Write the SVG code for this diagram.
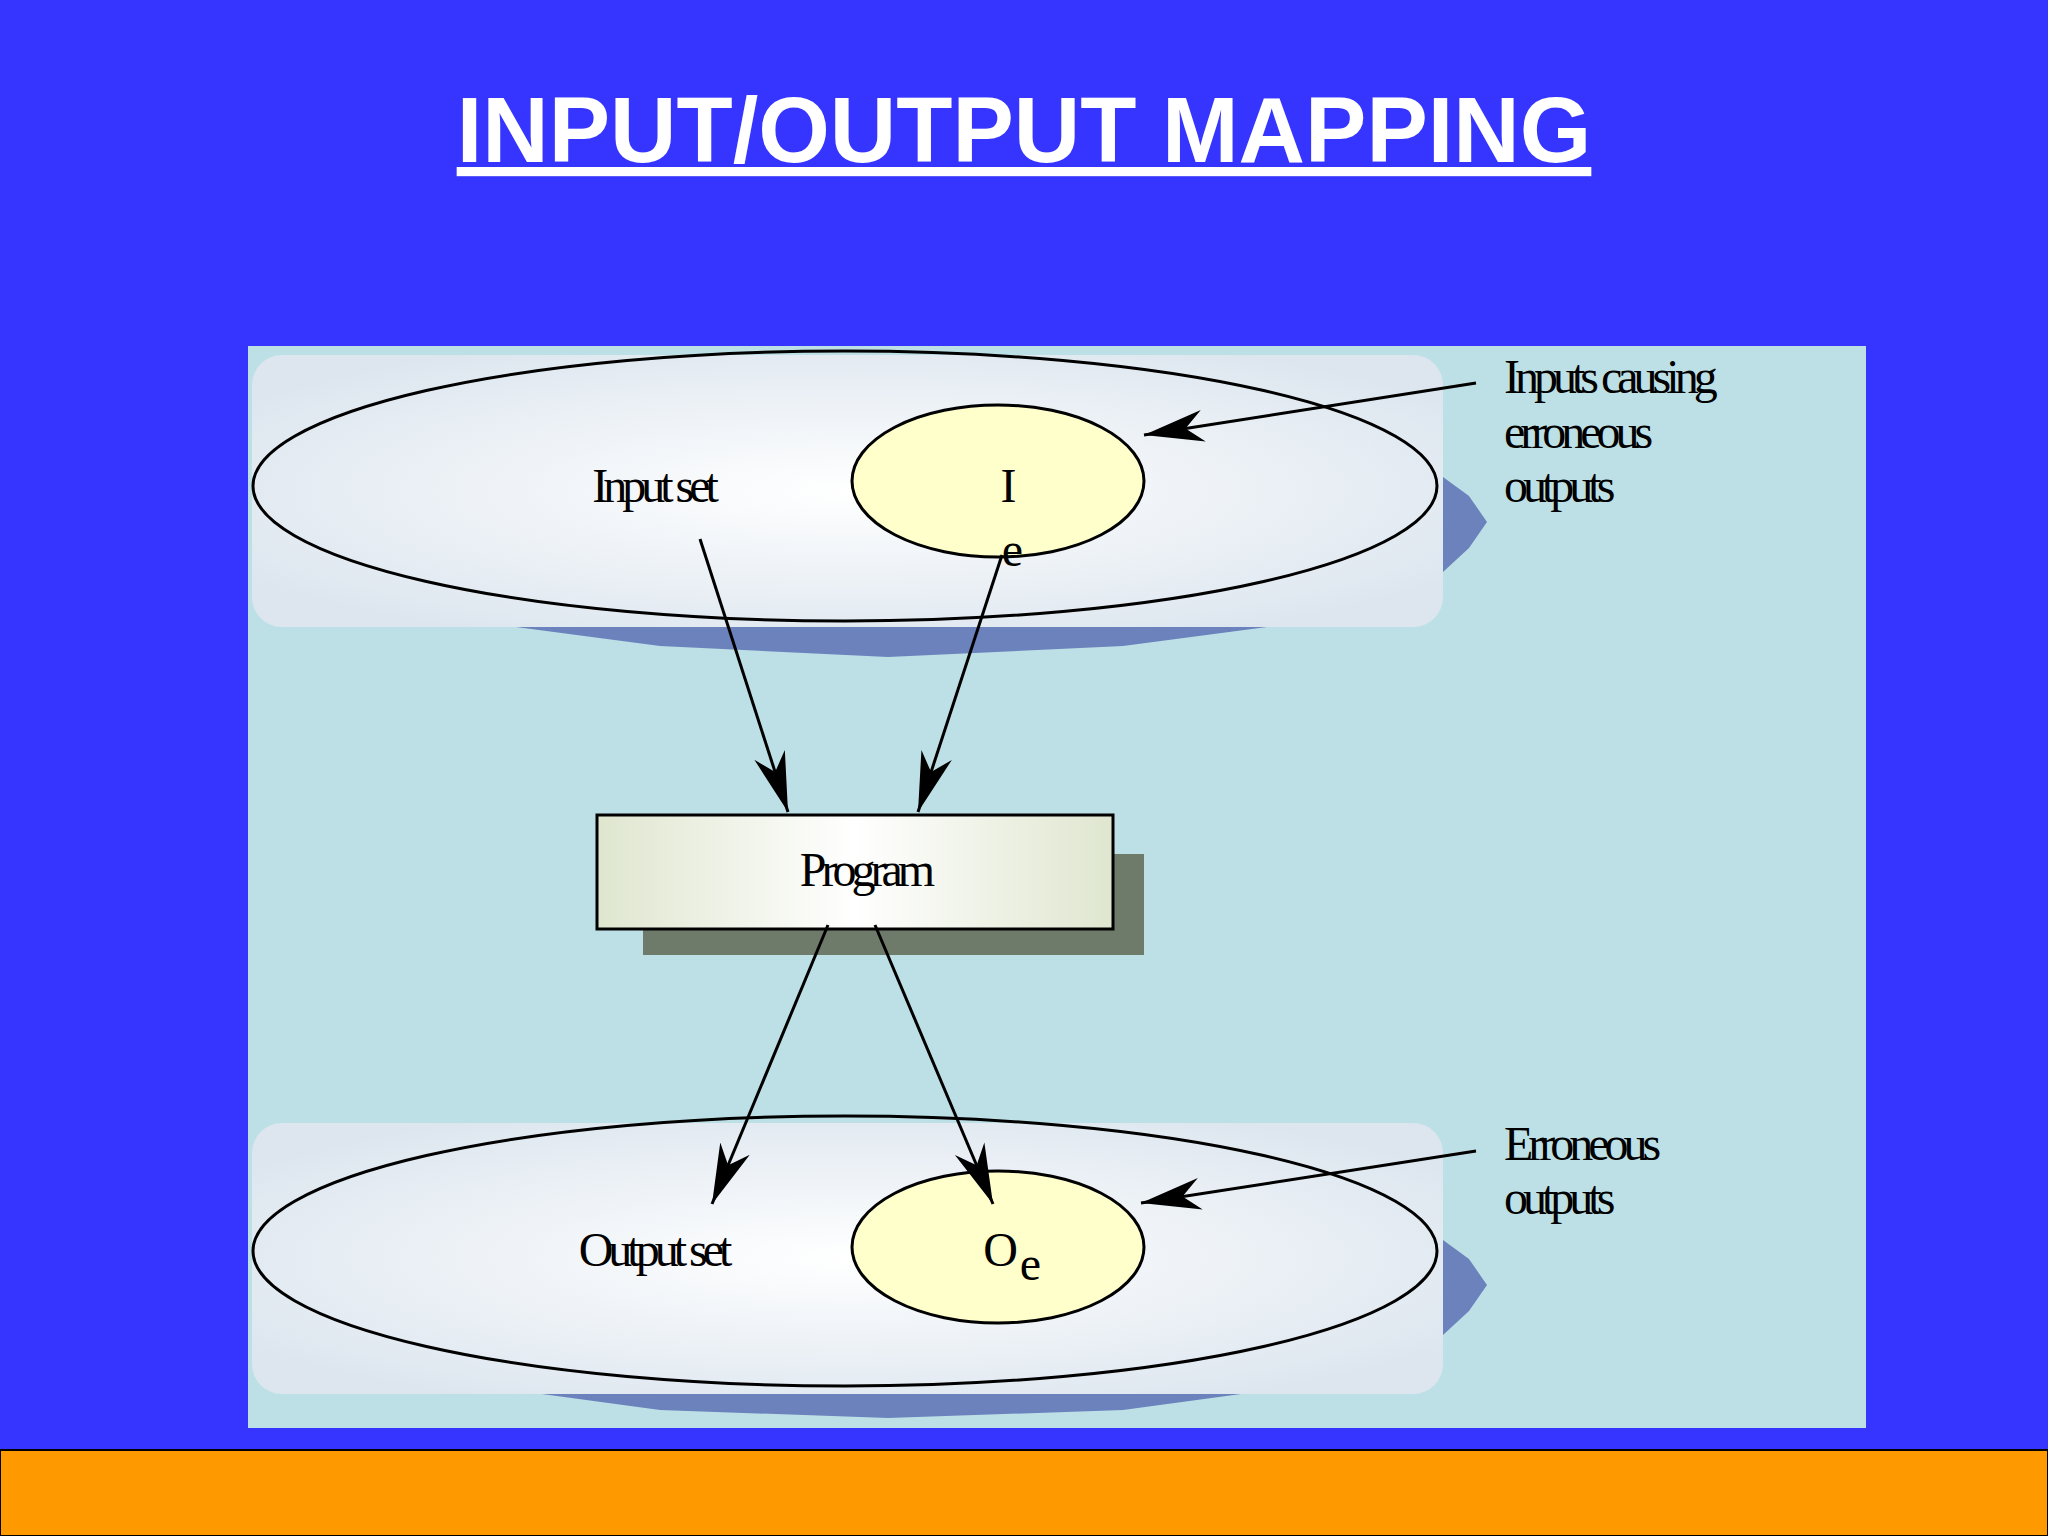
<svg xmlns="http://www.w3.org/2000/svg" width="2048" height="1536" viewBox="0 0 2048 1536">
<defs>
<style>
.lbl{font-family:"Liberation Serif",serif;font-size:48px;letter-spacing:-5px;fill:#000}
.ln{stroke:#000;stroke-width:3;fill:none}
.sh{fill:#6b82bd}
</style>
<radialGradient id="hl" cx="0.5" cy="0.5" r="0.6">
<stop offset="0" stop-color="#ffffff"/><stop offset="1" stop-color="#dde6ef"/>
</radialGradient>
<linearGradient id="pg" x1="0" x2="1">
<stop offset="0" stop-color="#dfe6cf"/><stop offset="0.5" stop-color="#ffffff"/><stop offset="1" stop-color="#dfe6cf"/>
</linearGradient>
<marker id="ah" viewBox="-60 -20 62 40" refX="0" refY="0" markerWidth="62" markerHeight="40" markerUnits="userSpaceOnUse" orient="auto">
<path d="M0,0 L-60,-16 L-42,0 L-60,16 Z" fill="#000"/>
</marker>
</defs>
<rect width="2048" height="1536" fill="#3535ff"/>
<text x="1024" y="162" text-anchor="middle" font-family="Liberation Sans,Arial,sans-serif" font-weight="bold" font-size="92" fill="#fff" text-decoration="underline">INPUT/OUTPUT MAPPING</text>
<rect x="248" y="346" width="1618" height="1082" fill="#bde0e6"/>
<rect x="0" y="1450" width="2048" height="86" fill="#ff9900" stroke="#000" stroke-width="2"/>

<g id="inputset">
<polygon class="sh" points="516,627 660,646 888,657 1123,646 1267,627"/>
<polygon class="sh" points="1443,477 1469,496 1487,522 1469,548 1443,572"/>
<rect x="252" y="355" width="1191" height="272" rx="30" fill="url(#hl)"/>
<ellipse cx="845" cy="486" rx="592" ry="135" fill="none" stroke="#000" stroke-width="3"/>
<text class="lbl" x="653" y="502" text-anchor="middle">Input set</text>
</g>
<g id="ie">
<ellipse cx="998" cy="481" rx="146" ry="76" fill="#ffffcc" stroke="#000" stroke-width="3"/>
<text class="lbl" x="1006" y="502" text-anchor="middle">I</text>
<text class="lbl" x="1010" y="566" text-anchor="middle">e</text>
</g>
<g id="program">
<rect x="643" y="854" width="501" height="101" fill="#6e7b6a"/>
<rect x="597" y="815" width="516" height="114" fill="url(#pg)" stroke="#000" stroke-width="3"/>
<text class="lbl" x="865" y="886" text-anchor="middle">Program</text>
</g>
<g id="outputset">
<polygon class="sh" points="542,1394 660,1410 888,1418 1123,1410 1241,1394"/>
<polygon class="sh" points="1443,1240 1469,1259 1487,1285 1469,1311 1443,1335"/>
<rect x="252" y="1123" width="1191" height="271" rx="30" fill="url(#hl)"/>
<ellipse cx="845" cy="1251" rx="592" ry="135" fill="none" stroke="#000" stroke-width="3"/>
<text class="lbl" x="653" y="1266" text-anchor="middle">Output set</text>
</g>
<g id="oe">
<ellipse cx="998" cy="1247" rx="146" ry="76" fill="#ffffcc" stroke="#000" stroke-width="3"/>
<text class="lbl" x="998" y="1266" text-anchor="middle">O</text>
<text class="lbl" x="1028" y="1280" text-anchor="middle">e</text>
</g>
<g id="notes">
<text class="lbl" x="1504" y="393">Inputs causing</text>
<text class="lbl" x="1504" y="448">erroneous</text>
<text class="lbl" x="1504" y="502">outputs</text>
<text class="lbl" x="1504" y="1160">Erroneous</text>
<text class="lbl" x="1504" y="1214">outputs</text>
</g>
<g id="connectors">
<line class="ln" x1="700" y1="539" x2="788" y2="812" marker-end="url(#ah)"/>
<line class="ln" x1="1002" y1="555" x2="918" y2="812" marker-end="url(#ah)"/>
<line class="ln" x1="828" y1="925" x2="712" y2="1204" marker-end="url(#ah)"/>
<line class="ln" x1="875" y1="925" x2="993" y2="1204" marker-end="url(#ah)"/>
<line class="ln" x1="1476" y1="383" x2="1144" y2="435" marker-end="url(#ah)"/>
<line class="ln" x1="1476" y1="1151" x2="1141" y2="1203" marker-end="url(#ah)"/>
</g>
</svg>
